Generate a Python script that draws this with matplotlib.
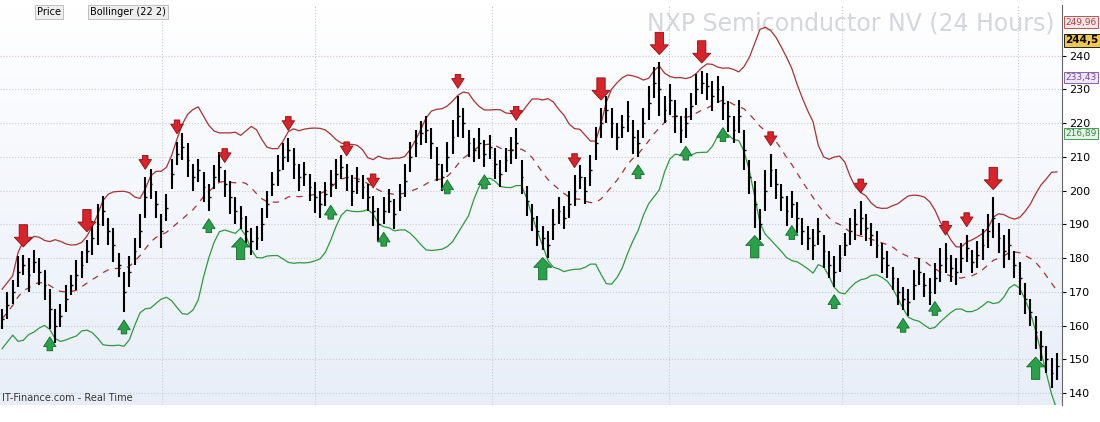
import numpy as np
import pandas as pd
from matplotlib import pyplot as plt
from matplotlib.colors import LinearSegmentedColormap

# mid price of each bar (24h bars)
mids = [162,166,170,176,178,175,179,176,172,165,
        160,163,168,172,175,178,182,186,190,194,
        188,184,178,170,176,182,188,198,202,196,
        188,195,205,211,213,209,204,206,201,198,
        204,207,202,198,194,192,188,185,186,190,
        196,202,206,210,212,208,204,205,201,198,
        196,199,202,205,207,204,200,203,201,198,
        194,190,194,197,193,198,203,210,214,217,
        218,214,208,204,210,216,222,220,214,212,
        214,211,213,208,205,209,212,214,204,197,
        192,188,186,184,190,194,192,196,200,204,
        200,206,214,220,224,220,216,219,222,216,
        214,220,226,232,230,224,227,222,218,220,
        225,230,232,231,228,230,226,222,218,222,
        212,204,196,190,200,206,202,198,194,196,
        192,188,186,184,188,182,178,176,180,184,
        188,190,192,189,187,184,180,178,174,170,
        168,167,172,176,172,170,174,178,180,177,
        176,180,183,179,181,184,188,192,186,182,
        184,178,174,168,164,158,154,150,146,148]
heights = [6,8,7,9,6,10,7,8,9,12,
           10,7,8,6,9,8,7,10,12,9,
           8,10,7,12,9,8,10,12,9,8,
           10,8,9,7,8,10,8,7,9,8,
           7,9,8,10,8,7,9,8,7,10,
           8,7,9,8,7,9,8,7,8,9,
           8,7,8,9,7,8,9,8,7,8,
           9,10,8,7,9,8,10,9,8,7,
           8,9,10,8,9,10,12,9,8,7,
           9,8,7,9,8,7,8,9,10,9,
           8,9,7,8,9,8,7,8,9,7,
           8,9,10,9,8,9,8,7,9,10,
           8,9,10,9,16,8,9,10,8,9,
           8,9,7,8,9,8,10,9,8,10,
           12,10,14,9,12,10,9,8,9,8,
           9,8,7,9,8,10,8,9,8,7,
           8,9,10,8,7,8,9,8,7,8,
           7,8,9,8,7,8,9,10,9,8,
           8,9,8,7,8,9,10,12,9,10,
           9,8,10,9,8,10,9,8,9,8]

red_arrows = [4, 16, 27, 33, 42, 54, 65, 70, 86, 97, 108, 113, 124, 132, 145, 162, 178, 182, 187]
red_big = [4, 16, 113, 124, 132, 187]
green_arrows = [9, 23, 39, 45, 62, 72, 84, 91, 102, 120, 129, 136, 142, 149, 157, 170, 176, 195]
green_big = [45, 102, 142, 195]

end_labels = [("249,96", 249.96, "#b03a3a", "#f6e8ea"),
              ("244,5", 244.5, "black", "#f2c84b"),
              ("233,43", 233.43, "#7a4a9a", "#ece6f5"),
              ("216,89", 216.89, "#2f8a3f", "#e6f3e8")]

mids = np.array(mids, dtype=float)
heights = np.array(heights, dtype=float)
highs = mids + heights / 2
lows = mids - heights / 2
x = np.arange(len(mids))

s = pd.Series(mids)
ma = s.rolling(15, min_periods=1).mean()
sd = s.rolling(15, min_periods=3).std().bfill()
upper = ma + 2.2 * sd
lower = ma - 2.2 * sd

fig = plt.figure(figsize=(11, 4.22), dpi=100)
ax = fig.add_axes([0, 17/422, 1062/1100, 1 - 22/422])

ymin, ymax = 136.5, 255
xmin, xmax = -0.4, 1062/5.3 - 0.4
grad = np.linspace(0, 1, 100).reshape(-1, 1)
ax.imshow(grad, extent=[xmin, xmax, ymin, ymax], aspect='auto', origin='upper',
          cmap=LinearSegmentedColormap.from_list('bg', ['#ffffff', '#e8eef8']), zorder=0)

ax.plot(x, upper, color='#a83232', lw=0.9, zorder=2)
ax.plot(x, lower, color='#2e9a3e', lw=0.9, zorder=2)
ax.plot(x, ma, color='#a83232', lw=0.9, ls=(0, (5, 5)), zorder=2)

ax.vlines(x, lows, highs, color='black', lw=1.5, zorder=3)
ax.hlines(mids, x, x + 0.35, color='black', lw=1, zorder=3)

for i in red_arrows:
    big = i in red_big
    ax.annotate('', xy=(i, highs[i] + 1.5), xytext=(0, 20 if big else 14), textcoords='offset points',
                arrowprops=dict(arrowstyle='simple,head_width=%s,head_length=0.7,tail_width=%s'
                                % ((1.3, 0.6) if big else (0.9, 0.4)),
                                fc='#d9232a', ec='#8a1010', lw=0.6), zorder=4)
for i in green_arrows:
    big = i in green_big
    ax.annotate('', xy=(i, lows[i] - 1.5), xytext=(0, -(20 if big else 14)), textcoords='offset points',
                arrowprops=dict(arrowstyle='simple,head_width=%s,head_length=0.7,tail_width=%s'
                                % ((1.3, 0.6) if big else (0.9, 0.4)),
                                fc='#2aa048', ec='#136b2a', lw=0.6), zorder=4)

ax.set_xlim(xmin, xmax)
ax.set_ylim(ymin, ymax)
ax.set_yticks(range(140, 250, 10))
ax.yaxis.tick_right()
ax.tick_params(axis='y', labelsize=8, length=3, pad=2)
ax.set_xticks([160/5.3, 313/5.3, 490/5.3, 667/5.3, 840/5.3, 1016/5.3])
ax.set_xticklabels([])
ax.tick_params(axis='x', length=0)
ax.grid(True, color='#c8ccd4', ls=':', lw=0.8)
for sp in ['top', 'left', 'bottom']:
    ax.spines[sp].set_visible(False)
ax.spines['right'].set_color('#666666')

for txt, v, ec, fc in end_labels:
    bold = txt == "244,5"
    ax.text(1.003, v, txt, transform=ax.get_yaxis_transform(), fontsize=7.5 if bold else 6.5,
            fontweight='bold' if bold else 'normal', color=ec, va='center', ha='left',
            bbox=dict(boxstyle='square,pad=0.12', fc=fc, ec=ec, lw=0.6), zorder=6, clip_on=False)

ax.text(0.993, 0.985, "NXP Semiconductor NV (24 Hours)", transform=ax.transAxes, ha='right', va='top',
        fontsize=17, color='#d4d6da', zorder=1)
ax.text(0.002, 0.005, "IT-Finance.com - Real Time", transform=ax.transAxes, ha='left', va='bottom',
        fontsize=7, color='#333333')
ax.text(0.035, 0.995, "Price", transform=ax.transAxes, fontsize=7, va='top',
        bbox=dict(boxstyle='square,pad=0.2', fc='#eeeeee', ec='#aaaaaa', lw=0.5))
ax.text(0.085, 0.995, "Bollinger (22 2)", transform=ax.transAxes, fontsize=7, va='top',
        bbox=dict(boxstyle='square,pad=0.2', fc='#eeeeee', ec='#aaaaaa', lw=0.5))

fig.savefig("out.png")
